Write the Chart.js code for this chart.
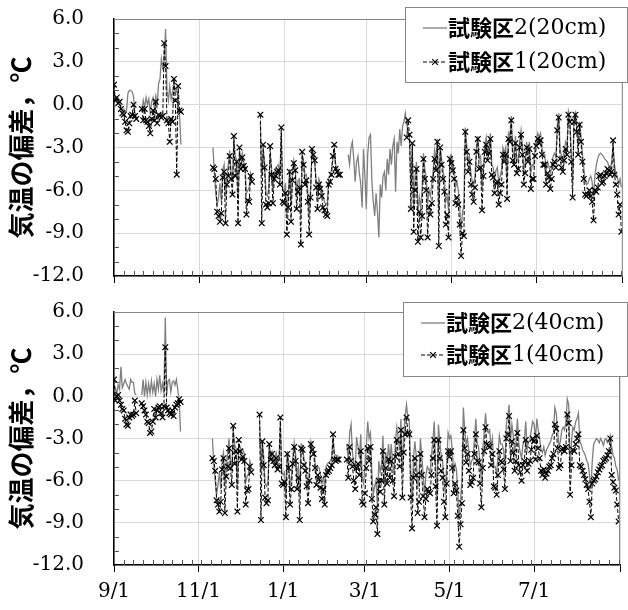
<!DOCTYPE html>
<html>
<head>
<meta charset="utf-8">
<script src="https://cdn.jsdelivr.net/npm/chart.js@4/dist/chart.umd.min.js"></script>
<style>
	html, body { margin: 0; padding: 0; background: #fff; }
	#wrap { position: relative; width: 628px; height: 610px; }
	canvas { position: absolute; left: 0; }
</style>
</head>
<body>
<div id="wrap">
	<canvas id="chart-20" width="628" height="300" style="top:0"></canvas>
	<canvas id="chart-40" width="628" height="310" style="top:300px"></canvas>
</div>
<script>
// x axis: days since 9/1, labelled every two months
const tickDays = [0, 61, 122, 181, 242, 303, 365];
const tickLabels = ["9/1", "11/1", "1/1", "3/1", "5/1", "7/1", ""];
const yTitle = "気温の偏差，℃";
const labels20 = ["試験区2(20cm)", "試験区1(20cm)"];
const labels40 = ["試験区2(40cm)", "試験区1(40cm)"];

// daily deviations, one value per day from 9/1 (null = missing)
const plot2At20 = [
	0.1, 0.5, 0.3, 0.2, 0.1, -0.2, -0.4, -0.3, -0.6, -0.4,
	0.8, 1.0, 1.0, 0.9, 0.6, -0.6, -0.9, null, null, null,
	-0.4, 0.3, -0.2, 0.5, 0.0, 0.4, -0.6, 0.2, 0.5, -0.3,
	0.6, 0.0, 1.5, 1.8, 3.2, 2.6, 3.1, 5.3, 1.0, 0.3,
	1.3, 0.4, 0.9, 1.6, 0.8, 1.1, 0.2, -0.7, -2.8, null,
	null, null, null, null, null, null, null, null, null, null,
	null, null, null, null, null, null, null, null, null, null,
	null, -3.0, -4.8, -6.2, -7.0, -6.5, -5.5, -6.8, -4.6, -4.2,
	-6.5, -5.0, -4.2, -3.2, -4.8, -5.4, -2.5, -3.6, -3.9, -6.6,
	-3.5, -3.8, -3.4, -4.0, -4.3, -6.2, -6.0, -5.8, -4.8, -5.2,
	null, null, null, null, null, -1.2, -5.0, -3.2, -4.0, -6.2,
	-6.4, -5.9, -3.4, -4.4, -6.0, -4.8, -4.5, -4.3, -4.2, -5.0,
	-2.0, -5.8, -6.2, -5.5, -7.8, -6.3, -4.5, -7.0, -4.8, -3.9,
	-4.4, -6.5, -5.3, -5.2, -7.8, -3.6, -4.0, -5.0, -4.9, -6.1,
	-7.8, -5.9, -3.4, -3.6, -4.0, -5.3, -6.6, -5.2, -5.5, -5.9,
	-6.5, -6.8, -7.0, -6.9, -5.2, -5.0, -4.6, -3.8, -3.2, -4.2,
	-4.5, -4.6, -4.8, null, null, null, null, null, -3.5, -4.2,
	-3.0, -2.6, -3.8, -5.4, -4.0, -3.6, -4.8, -5.5, -7.2, -3.1,
	-5.0, -7.3, -3.5, -2.3, -2.1, -5.4, -6.8, -7.8, -6.2, -7.5,
	-9.3, -5.6, -6.5, -5.0, -4.7, -6.0, -3.8, -4.9, -3.1, -4.2,
	-2.9, -2.4, -6.1, -2.6, -3.4, -1.7, -2.9, -1.5, -1.2, -0.6,
	-1.4, -1.8, -2.4, -5.8, -3.0, -7.2, -5.0, -4.0, -7.6, -6.5,
	-7.2, -6.0, -3.4, -4.5, -5.2, -7.0, -6.0, -6.4, -5.5, -4.6,
	-3.2, -3.9, -2.4, -7.5, -3.0, -3.8, -4.6, -5.2, -6.8, -6.4,
	-7.4, -3.6, -3.5, -4.0, -4.6, -5.8, -5.4, -6.0, -7.2, -8.8,
	-7.6, -7.0, -1.6, -2.8, -4.0, -3.6, -4.8, -5.4, -5.6, -5.0,
	-3.0, -2.2, -3.8, -3.6, -5.9, -4.4, -2.9, -2.3, -3.4, -3.0,
	-2.0, -4.2, -4.4, -5.2, -4.6, -4.4, -5.6, -5.0, -4.6, -3.0,
	-3.4, -3.0, -5.2, -2.0, -2.2, -0.8, -3.2, -3.6, -2.2, -4.0,
	-3.8, -2.6, -1.8, -2.9, -4.6, -4.0, -2.6, -3.4, -2.6, -4.8,
	-4.2, -4.3, -3.0, -2.4, -2.0, -2.3, -2.0, -2.9, -3.6, -3.5,
	-4.6, -4.0, -4.3, -4.8, -4.4, -3.6, -3.4, -3.7, -1.5, -0.6,
	-3.1, -3.6, -3.9, -3.2, -2.6, -2.9, -0.5, -1.0, -3.4, -5.4,
	-1.0, -0.6, -1.6, -2.9, -1.2, -2.2, -3.4, -4.4, -5.4, -5.6,
	-5.5, -5.2, -5.0, -5.4, -6.6, -5.0, -4.2, -3.8, -3.5, -3.4,
	-3.5, -3.6, -3.8, -3.9, -4.0, -4.3, -4.4, -4.1, -2.8, -4.2,
	-4.8, -5.0, -5.6, -5.2, -5.8
];

const plot1At20 = [
	1.4, 0.3, 0.5, 0.1, 0.2, -0.3, -0.6, -0.7, -1.2, -1.8,
	-1.9, -1.3, -0.8, -0.7, 0.0, -0.8, -1.0, null, null, null,
	-0.3, -1.1, -0.3, -1.1, -1.2, -1.5, -2.0, -1.0, -0.4, -1.1,
	0.2, -1.3, -0.7, -0.8, -0.9, -0.8, 4.3, 2.7, -1.1, -1.3,
	-2.6, -1.0, -1.2, 1.8, 0.3, -4.9, 1.3, -0.4, -0.5, null,
	null, null, null, null, null, null, null, null, null, null,
	null, null, null, null, null, null, null, null, null, null,
	null, -4.4, -4.5, -5.2, -7.5, -7.8, -8.2, -7.6, -5.1, -4.7,
	-8.3, -5.6, -5.0, -3.6, -5.2, -6.3, -2.2, -5.0, -4.0, -8.3,
	-3.0, -4.5, -3.7, -4.3, -4.5, -7.7, -6.7, -6.8, -5.0, -5.4,
	null, null, null, null, null, -0.7, -8.3, -2.8, -4.4, -7.0,
	-7.2, -6.9, -2.9, -4.9, -6.9, -5.2, -5.0, -4.7, -4.6, -5.6,
	-1.6, -6.8, -6.9, -6.2, -9.1, -7.2, -4.7, -8.2, -5.3, -4.1,
	-4.6, -7.3, -6.1, -5.8, -9.8, -3.3, -4.2, -5.6, -5.3, -6.8,
	-9.1, -6.5, -3.1, -3.5, -3.9, -5.8, -7.3, -5.6, -5.9, -6.4,
	-7.2, -7.4, -7.7, -7.8, -5.6, -5.4, -4.9, -3.6, -2.8, -4.5,
	-4.7, -4.9, -4.9, null, null, null, null, null, null, null,
	null, null, null, null, null, null, null, null, null, null,
	null, null, null, null, null, null, null, null, null, null,
	null, null, null, null, null, null, null, null, null, null,
	null, null, null, null, null, null, null, null, null, null,
	-2.3, -1.1, -2.1, -7.3, -2.7, -8.9, -6.0, -4.5, -9.6, -7.5,
	-9.3, -7.8, -3.8, -5.2, -6.0, -9.3, -7.2, -7.7, -6.9, -5.2,
	-3.8, -4.6, -2.6, -9.9, -3.0, -4.2, -5.2, -6.1, -8.4, -7.7,
	-9.3, -3.8, -4.1, -4.6, -5.2, -6.9, -6.5, -7.0, -8.4, -10.6,
	-9.0, -9.2, -1.9, -3.3, -4.7, -4.0, -5.6, -6.3, -6.8, -5.8,
	-3.3, -2.4, -4.5, -4.4, -7.4, -5.0, -3.3, -2.8, -3.9, -3.4,
	-2.4, -4.9, -5.1, -6.2, -5.5, -5.4, -7.0, -6.2, -5.6, -3.5,
	-4.0, -3.5, -6.6, -2.4, -2.6, -1.1, -3.9, -4.2, -2.7, -4.8,
	-4.5, -3.0, -2.1, -3.5, -5.6, -4.8, -3.0, -4.0, -3.1, -5.9,
	-5.2, -5.2, -3.6, -2.9, -2.4, -2.7, -2.5, -3.5, -4.2, -4.2,
	-5.6, -4.8, -5.1, -5.9, -5.2, -4.2, -4.0, -4.4, -1.8, -0.9,
	-3.8, -4.4, -4.7, -3.9, -3.1, -3.5, -0.7, -1.2, -4.0, -6.5,
	-1.2, -0.7, -1.9, -3.5, -1.4, -2.6, -4.0, -5.2, -6.3, -6.4,
	-6.3, -6.0, -6.4, -6.8, -8.1, -6.0, -6.1, -5.8, -5.0, -4.9,
	-5.5, -5.4, -5.0, -4.8, -4.5, -4.6, -4.9, -4.7, -2.5, -4.9,
	-5.6, -6.3, -7.7, -7.0, -8.9
];

const plot2At40 = [
	0.3, 0.6, 0.2, 0.8, 0.5, 2.1, 0.6, 0.9, 1.2, 0.9,
	0.7, 0.5, 1.2, 1.0, 1.0, 0.2, 0.1, null, null, null,
	0.1, 1.2, 0.0, 1.0, 0.1, 0.9, 0.2, 1.1, 0.3, 0.9,
	0.0, 1.2, 0.5, 1.5, 0.4, 0.9, 0.2, 5.6, 0.1, 1.1,
	1.2, 0.3, 1.0, 1.1, 0.8, 1.2, 0.5, -0.3, -2.5, null,
	null, null, null, null, null, null, null, null, null, null,
	null, null, null, null, null, null, null, null, null, null,
	null, -3.0, -4.9, -6.0, -7.0, -6.3, -5.4, -6.6, -4.5, -4.0,
	-6.4, -4.8, -4.0, -3.0, -4.6, -5.2, -2.3, -3.4, -3.7, -6.4,
	-3.4, -3.6, -3.9, -3.8, -4.1, -6.1, -5.7, -5.5, -4.6, -5.0,
	null, null, null, null, null, -1.6, -5.4, -3.3, -4.3, -6.2,
	-6.4, -6.1, -3.6, -4.1, -3.9, -4.3, -4.4, -4.0, -4.7, -4.5,
	-2.0, -5.4, -5.6, -5.4, -7.2, -3.9, -4.6, -6.5, -5.7, -4.3,
	-3.3, -4.1, -5.6, -5.0, -7.0, -3.4, -3.5, -4.4, -4.7, -5.6,
	-6.4, -5.2, -3.2, -3.5, -3.8, -4.6, -5.4, -5.0, -5.1, -5.6,
	-6.2, -5.8, -6.4, -5.0, -4.8, -4.7, -4.6, -4.4, -2.9, -4.1,
	-4.2, -4.2, -4.3, null, null, null, null, null, -3.4, -4.6,
	-2.6, -2.0, -4.0, -4.8, -5.2, -2.9, -3.6, -4.4, -2.7, -5.8,
	-6.2, -5.0, -3.6, -1.8, -3.0, -2.6, -5.4, -7.0, -6.4, -6.0,
	-7.8, -4.6, -5.4, -4.8, -2.8, -6.0, -4.0, -4.8, -3.4, -4.6,
	-3.4, -4.8, -5.6, -3.2, -2.2, -3.0, -3.8, -1.6, -5.4, -2.8,
	-1.4, -0.6, -1.6, -1.8, -5.2, -7.6, -4.4, -3.2, -4.2, -6.6,
	-5.8, -3.0, -4.2, -5.6, -7.0, -5.6, -5.0, -5.2, -5.4, -4.2,
	-3.2, -1.8, -5.0, -7.4, -2.0, -3.2, -4.2, -4.6, -6.0, -7.0,
	-4.8, -2.6, -3.0, -2.8, -3.8, -5.4, -4.8, -5.2, -6.8, -8.8,
	-7.4, -5.8, -0.8, -2.4, -3.4, -3.0, -4.0, -5.0, -4.6, -4.4,
	-3.0, -1.6, -3.4, -3.6, -4.8, -6.0, -3.8, -2.6, -1.2, -2.4,
	-2.6, -2.4, -3.6, -3.0, -5.0, -5.0, -5.6, -4.2, -2.8, -3.4,
	-3.4, -3.8, -5.0, -2.0, -1.4, -0.6, -3.2, -2.0, -2.8, -4.0,
	-3.2, -1.6, -3.4, -4.0, -4.4, -3.4, -3.2, -1.8, -3.8, -3.2,
	-3.2, -2.4, -1.8, -2.0, -3.0, -1.6, -2.4, -3.0, -3.8, -4.0,
	-3.6, -4.2, -3.8, -3.6, -3.4, -3.2, -2.8, -2.6, -0.8, -1.2,
	-2.4, -3.6, -3.2, -2.4, -2.2, -2.4, -1.8, -0.2, -0.6, -5.4,
	-3.2, -2.2, -2.4, -1.8, -1.6, -1.2, -3.2, -3.4, -3.8, -4.0,
	-4.2, -4.6, -4.8, -5.6, -6.6, -4.6, -3.4, -3.2, -3.0, -3.1,
	-3.3, -3.0, -3.2, -3.5, -3.1, -3.0, -3.3, -3.2, -2.8, -3.6,
	-4.2, -4.4, -5.0, -5.2, -6.0
];

const plot1At40 = [
	1.2, -0.3, 0.0, 0.1, -0.3, -0.6, -0.9, -1.0, -1.6, -2.0,
	-2.1, -1.5, -1.3, -1.4, -1.3, -0.3, -1.2, null, null, null,
	-0.5, -0.7, -1.0, -1.3, -1.8, -1.9, -2.6, -2.5, -1.8, -0.9,
	-1.5, -1.0, -0.8, -0.7, -1.2, -1.5, -0.7, 3.5, -0.8, -1.0,
	-1.2, -1.3, -1.0, -1.4, -0.8, -0.6, -0.5, -0.2, -0.4, null,
	null, null, null, null, null, null, null, null, null, null,
	null, null, null, null, null, null, null, null, null, null,
	null, -4.4, -4.6, -5.3, -7.4, -7.7, -8.2, -7.5, -5.2, -4.4,
	-8.3, -5.7, -5.0, -3.7, -5.1, -6.3, -2.1, -4.8, -3.9, -8.2,
	-3.1, -3.9, -4.5, -4.3, -4.6, -7.7, -6.7, -6.6, -5.0, -5.4,
	null, null, null, null, null, -1.3, -8.8, -3.2, -4.9, -7.2,
	-7.6, -7.4, -3.4, -4.5, -4.1, -4.6, -4.9, -4.4, -5.2, -5.0,
	-1.5, -6.2, -6.3, -6.1, -8.6, -4.1, -5.1, -7.7, -6.6, -4.8,
	-3.6, -4.6, -6.6, -5.8, -8.8, -3.7, -3.8, -4.9, -5.3, -6.4,
	-7.6, -6.0, -3.4, -3.8, -4.1, -5.1, -6.3, -5.6, -5.9, -6.5,
	-7.3, -6.6, -7.7, -5.6, -5.4, -5.3, -5.1, -4.9, -2.7, -4.5,
	-4.6, -4.5, -4.5, null, null, null, null, null, -4.5, -5.8,
	-3.6, -4.6, -5.0, -6.0, -6.6, -5.1, -4.8, -5.6, -3.9, -7.5,
	-7.7, -6.9, -5.1, -3.7, -4.6, -3.6, -7.3, -8.9, -8.4, -7.9,
	-9.8, -6.0, -6.8, -6.0, -3.9, -7.7, -5.1, -6.2, -4.5, -5.8,
	-4.6, -6.0, -7.1, -4.3, -3.1, -4.1, -5.0, -2.4, -7.2, -4.0,
	-2.7, -1.5, -2.6, -2.7, -7.2, -9.4, -5.8, -4.4, -5.6, -8.3,
	-7.5, -4.1, -5.6, -7.1, -8.6, -7.3, -6.6, -6.8, -6.9, -5.6,
	-4.4, -3.1, -6.4, -9.2, -3.1, -4.4, -5.3, -5.8, -7.5, -8.6,
	-6.2, -3.9, -4.3, -3.9, -5.1, -6.9, -6.2, -6.7, -8.5, -10.7,
	-9.1, -7.6, -2.4, -3.7, -4.7, -4.1, -5.3, -6.3, -6.1, -5.8,
	-4.1, -2.7, -4.6, -4.7, -6.2, -7.9, -5.1, -3.9, -2.2, -3.4,
	-3.5, -3.6, -4.9, -4.1, -6.4, -6.5, -7.0, -5.6, -3.9, -4.6,
	-4.7, -5.2, -6.6, -3.0, -2.7, -1.4, -4.6, -3.2, -4.0, -5.3,
	-4.6, -2.6, -4.9, -5.4, -6.0, -4.9, -4.6, -3.1, -5.3, -4.8,
	-4.6, -3.8, -3.0, -3.2, -4.5, -2.8, -3.7, -4.4, -5.3, -5.6,
	-5.2, -5.8, -5.5, -5.3, -5.0, -4.9, -4.4, -4.1, -2.0, -2.3,
	-3.7, -5.1, -4.9, -3.8, -3.7, -3.9, -3.6, -1.3, -1.9, -7.0,
	-4.9, -3.8, -3.9, -3.4, -3.0, -2.7, -4.9, -5.0, -5.3, -5.6,
	-5.9, -6.3, -6.6, -7.5, -8.6, -6.2, -6.0, -5.9, -5.7, -5.4,
	-5.2, -5.0, -4.9, -4.6, -4.5, -4.4, -4.2, -3.9, -3.0, -5.6,
	-6.1, -6.5, -6.7, -7.7, -8.9
];

const GRID = "#d9d9d9";
const FRAME = "#868686";
const SERIF = "DejaVu Serif";
const GOTHIC = "Noto Sans CJK JP";

const toPoints = (arr) => arr.map((v, i) => ({ x: i, y: v }));

// frame, minor ticks and the two-font legend
const panelDecor = {
	id: "panelDecor",
	afterDraw(chart, args, opts) {
		const { ctx, chartArea: a, scales } = chart;
		const x = scales.x;
		const y = scales.y;
		ctx.save();

		ctx.strokeStyle = FRAME;
		ctx.lineWidth = 1;
		ctx.beginPath();
		ctx.moveTo(a.left, a.top + 0.5);
		ctx.lineTo(a.right - 0.5, a.top + 0.5);
		ctx.lineTo(a.right - 0.5, a.bottom);
		ctx.stroke();

		// minor ticks: weekly on x, every 1.0 on y
		ctx.strokeStyle = "#555";
		ctx.beginPath();
		for (let d = 7; d < 365; d += 7) {
			const px = Math.round(x.getPixelForValue(d)) + 0.5;
			ctx.moveTo(px, a.bottom);
			ctx.lineTo(px, a.bottom - 5);
		}
		for (let v = -11; v < 6; v++) {
			if (v % 3 === 0) continue;
			const py = Math.round(y.getPixelForValue(v)) + 0.5;
			ctx.moveTo(a.left, py);
			ctx.lineTo(a.left + 5, py);
		}
		ctx.stroke();

		// legend
		const b = opts.box;
		ctx.fillStyle = "#fff";
		ctx.fillRect(b.x, b.y, b.w, b.h);
		ctx.strokeStyle = FRAME;
		ctx.strokeRect(b.x + 0.5, b.y + 0.5, b.w - 1, b.h - 1);

		chart.data.datasets.forEach((ds, i) => {
			const cy = b.y + opts.rowY[i];
			const x0 = b.x + 18;
			const x1 = b.x + 42;
			ctx.strokeStyle = ds.borderColor;
			ctx.lineWidth = ds.borderWidth;
			ctx.setLineDash(ds.borderDash || []);
			ctx.beginPath();
			ctx.moveTo(x0, cy);
			ctx.lineTo(x1, cy);
			ctx.stroke();
			ctx.setLineDash([]);
			if (ds.pointRadius) {
				const cx = (x0 + x1) / 2;
				const r = ds.pointRadius * 0.7;
				ctx.lineWidth = ds.pointBorderWidth;
				ctx.beginPath();
				ctx.moveTo(cx - r, cy - r);
				ctx.lineTo(cx + r, cy + r);
				ctx.moveTo(cx - r, cy + r);
				ctx.lineTo(cx + r, cy - r);
				ctx.stroke();
			}
			const m = ds.label.match(/^([^\x00-\x7F]+)(.*)$/);
			ctx.fillStyle = "#000";
			ctx.textBaseline = "middle";
			ctx.textAlign = "left";
			ctx.font = "bold 22px '" + GOTHIC + "'";
			ctx.fillText(m[1], x1 + 1, cy);
			const w = ctx.measureText(m[1]).width;
			ctx.font = "22px '" + SERIF + "'";
			ctx.fillText(m[2], x1 + 1 + w, cy);
		});
		ctx.restore();
	},
};

function makePanel(id, plot2, plot1, labels, opt) {
	const CONFIG = {
		type: "line",
		data: {
			datasets: [
				{
					label: labels[0],
					data: toPoints(plot2),
					borderColor: "#7f7f7f",
					borderWidth: 1.3,
					pointRadius: 0,
					order: 2,
				},
				{
					label: labels[1],
					data: toPoints(plot1),
					borderColor: "#000",
					borderWidth: 1,
					borderDash: [4, 2],
					pointStyle: "crossRot",
					pointRadius: 4,
					pointBorderColor: "#000",
					pointBorderWidth: 1.2,
					order: 1,
				},
			],
		},
		options: {
			responsive: false,
			animation: false,
			devicePixelRatio: 1,
			events: [],
			spanGaps: false,
			layout: { padding: { top: opt.top, right: 1, left: 0, bottom: 0 } },
			plugins: {
				legend: { display: false },
				tooltip: { enabled: false },
				panelDecor: { box: opt.box, rowY: opt.rowY },
			},
			scales: {
				x: {
					type: "linear",
					min: 0,
					max: 365,
					afterBuildTicks: (s) => {
						s.ticks = tickDays.map((v) => ({ value: v }));
					},
					afterFit: (s) => {
						s.height = opt.xHeight;
					},
					grid: { color: GRID, tickColor: "#000", tickLength: 7, tickWidth: 1 },
					border: { color: "#000", width: 1.5 },
					ticks: {
						display: opt.showX,
						autoSkip: false,
						maxRotation: 0,
						padding: 8,
						color: "#000",
						font: { family: SERIF, size: 20 },
						callback: (v) => tickLabels[tickDays.indexOf(v)],
					},
				},
				y: {
					min: -12,
					max: 6,
					afterFit: (s) => {
						s.width = 114;
					},
					// invisible tick marks give the gap between labels and axis
					grid: { color: GRID, drawTicks: true, tickLength: 30, tickColor: "rgba(0,0,0,0)" },
					border: { color: "#000", width: 1.5 },
					ticks: {
						stepSize: 3,
						padding: 0,
						color: "#000",
						font: { family: SERIF, size: 20 },
						callback: (v) => v.toFixed(1),
					},
					title: {
						display: true,
						text: yTitle,
						color: "#000",
						font: { family: GOTHIC, size: 26, weight: "bold" },
						padding: { top: 6, bottom: 0 },
					},
				},
			},
		},
		plugins: [panelDecor],
	};
	return new Chart(document.getElementById(id), CONFIG);
}

makePanel("chart-20", plot2At20, plot1At20, labels20, {
	top: 19, xHeight: 24, showX: false,
	box: { x: 405, y: 7, w: 223, h: 76 }, rowY: [21, 55],
});
makePanel("chart-40", plot2At40, plot1At40, labels40, {
	top: 12, xHeight: 45, showX: true,
	box: { x: 403, y: 2, w: 225, h: 75 }, rowY: [21, 53],
});
</script>
</body>
</html>
